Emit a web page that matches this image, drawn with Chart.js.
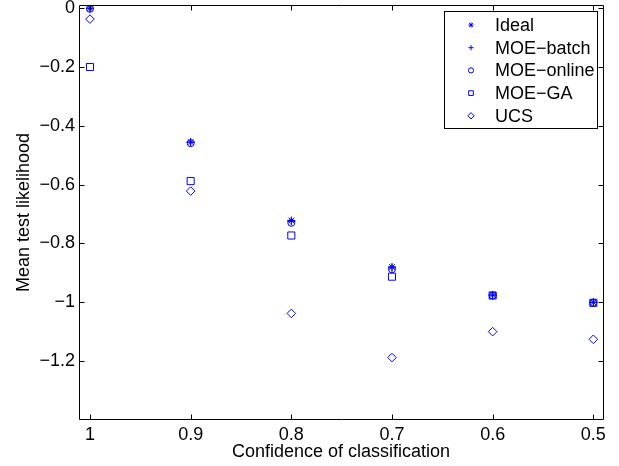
<!DOCTYPE html>
<html>
<head>
<meta charset="utf-8">
<title>Mean test likelihood vs confidence</title>
<script src="https://cdn.jsdelivr.net/npm/chart.js@4.4.1/dist/chart.umd.min.js"></script>
<style>
  html, body { margin: 0; padding: 0; background: #fff; }
  #wrap { width: 619px; height: 466px; }
</style>
</head>
<body>
<div id="wrap"><canvas id="chart" width="619" height="466"></canvas></div>
<script>
// ── Dados ──────────────────────────────────────────────────────
const confidence = [1, 0.9, 0.8, 0.7, 0.6, 0.5];
const ideal      = [0, -0.455, -0.722, -0.880, -0.975, -1.000];
const moeBatch   = [0, -0.456, -0.725, -0.883, -0.976, -1.000];
const moeOnline  = [-0.002, -0.459, -0.730, -0.888, -0.977, -1.002];
const moeGA      = [-0.200, -0.588, -0.773, -0.913, -0.977, -1.002];
const ucs        = [-0.037, -0.622, -1.038, -1.188, -1.100, -1.126];

const xTicks = [1, 0.9, 0.8, 0.7, 0.6, 0.5];
const yTicks = [0, -0.2, -0.4, -0.6, -0.8, -1, -1.2];

const FONT = "'Liberation Sans', Arial, Helvetica, sans-serif";
const BLUE = '#0000ff';

const series = [
  { label: 'Ideal',           values: ideal,     style: 'star',    r: 4,   lr: 2.6 },
  { label: 'MOE\u2212batch',  values: moeBatch,  style: 'cross',   r: 4,   lr: 2.6 },
  { label: 'MOE\u2212online', values: moeOnline, style: 'circle',  r: 3.5, lr: 2.6 },
  { label: 'MOE\u2212GA',     values: moeGA,     style: 'rect',    r: 5,   lr: 3.3 },
  { label: 'UCS',             values: ucs,       style: 'rectRot', r: 4.3, lr: 3.2 }
];

const fmt = v => String(v).replace('-', '\u2212');

// ── Moldura e ticks para dentro (estilo MATLAB) ────────────────
const framePlugin = {
  id: 'frame',
  afterDraw(chart) {
    const { ctx, chartArea: a, scales } = chart;
    const L = a.left + 0.5, R = a.right + 0.5, T = a.top - 0.5, B = a.bottom + 0.5;
    ctx.save();
    ctx.strokeStyle = '#000';
    ctx.lineWidth = 1;
    ctx.beginPath();
    ctx.rect(L, T, R - L, B - T);
    const tl = 5;
    xTicks.forEach(v => {
      const px = Math.round(scales.x.getPixelForValue(v)) + 0.5;
      ctx.moveTo(px, B); ctx.lineTo(px, B - tl);
      ctx.moveTo(px, T); ctx.lineTo(px, T + tl);
    });
    yTicks.forEach(v => {
      const py = Math.round(scales.y.getPixelForValue(v)) + 0.5;
      ctx.moveTo(L, py); ctx.lineTo(L + tl, py);
      ctx.moveTo(R, py); ctx.lineTo(R - tl, py);
    });
    ctx.stroke();
    ctx.restore();
  }
};

// ── Legenda dentro do gráfico ──────────────────────────────────
const legendPlugin = {
  id: 'boxLegend',
  afterDraw(chart) {
    const ctx = chart.ctx;
    const bx = 444.5, by = 11.5, bw = 153, bh = 117;
    ctx.save();
    ctx.fillStyle = '#fff';
    ctx.fillRect(bx, by, bw, bh);
    ctx.strokeStyle = '#000';
    ctx.lineWidth = 1;
    ctx.strokeRect(bx, by, bw, bh);
    ctx.font = '18px ' + FONT;
    ctx.textBaseline = 'middle';
    ctx.textAlign = 'left';
    series.forEach((s, i) => {
      const y = 25 + i * 22.7;
      ctx.strokeStyle = BLUE;
      ctx.fillStyle = 'rgba(0,0,0,0)';
      Chart.helpers.drawPoint(ctx, { pointStyle: s.style, rotation: 0, radius: s.lr, borderWidth: 1 }, 471, y);
      ctx.fillStyle = '#000';
      ctx.fillText(s.label, 495, y + 1);
    });
    ctx.restore();
  }
};

const datasets = series.map(s => ({
  label: s.label,
  data: confidence.map((x, i) => ({ x, y: s.values[i] })),
  pointStyle: s.style,
  pointRadius: s.r,
  pointHoverRadius: s.r,
  borderColor: BLUE,
  backgroundColor: 'rgba(0,0,0,0)',
  pointBorderWidth: 1,
  showLine: false
}));

new Chart(document.getElementById('chart'), {
  type: 'scatter',
  data: { datasets },
  plugins: [framePlugin, legendPlugin],
  options: {
    responsive: false,
    animation: false,
    devicePixelRatio: 1,
    layout: { padding: { top: 6, right: 16, left: 0, bottom: 0 } },
    plugins: { legend: { display: false }, tooltip: { enabled: false } },
    scales: {
      x: {
        type: 'linear',
        reverse: true,
        min: 0.4904,
        max: 1.0109,
        afterBuildTicks: sc => { sc.ticks = xTicks.map(v => ({ value: v })); },
        afterFit: sc => { sc.height = 47; sc.paddingLeft = 0; sc.paddingRight = 0; },
        grid: { display: false, drawTicks: false },
        border: { display: false },
        ticks: { color: '#000', font: { family: FONT, size: 18 }, padding: 5, maxRotation: 0, autoSkip: false, callback: v => fmt(v) },
        title: { display: true, text: 'Confidence of classification', color: '#000', font: { family: FONT, size: 18 }, padding: { top: 0, bottom: 3 } }
      },
      y: {
        type: 'linear',
        min: -1.397,
        max: 0.0075,
        afterBuildTicks: sc => { sc.ticks = yTicks.map(v => ({ value: v })); },
        afterFit: sc => { sc.width = 79; sc.paddingTop = 0; sc.paddingBottom = 0; },
        grid: { display: false, drawTicks: false },
        border: { display: false },
        ticks: { color: '#000', font: { family: FONT, size: 18 }, padding: 4, autoSkip: false, callback: v => fmt(v) },
        title: { display: true, text: 'Mean test likelihood', color: '#000', font: { family: FONT, size: 18 }, padding: { top: 13, bottom: 0 } }
      }
    }
  }
});
</script>
</body>
</html>
